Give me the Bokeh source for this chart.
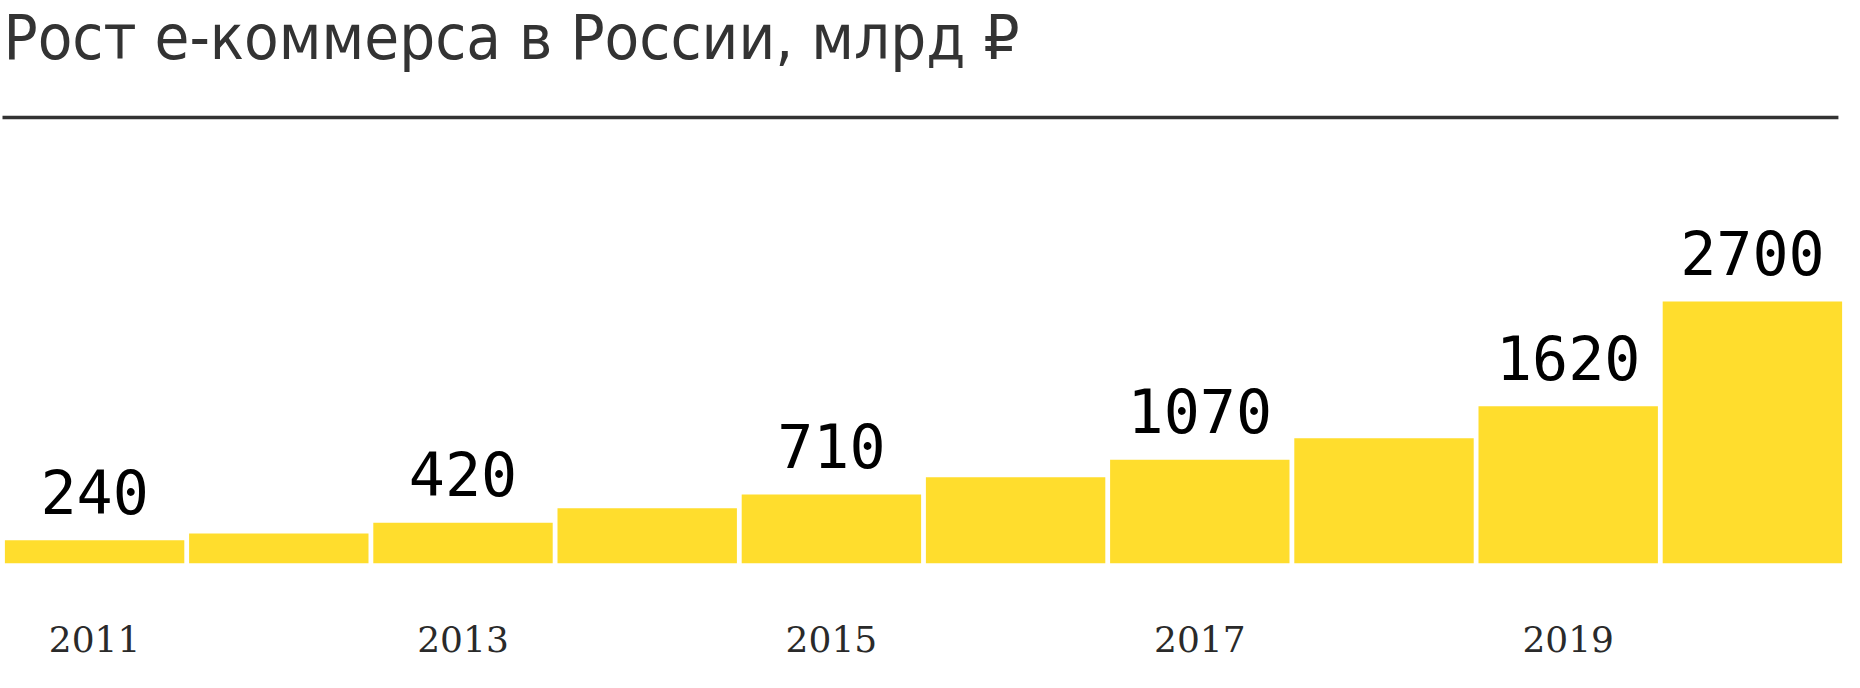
from bokeh.plotting import figure
from bokeh.models import (FactorRange, Range1d, Label, BoxAnnotation, ColumnDataSource,
                          CustomJSTickFormatter)
from bokeh.core.properties import value
from bokeh.embed import file_html
from bokeh.resources import INLINE

# ---- data ----
years = ["2011", "2012", "2013", "2014", "2015", "2016", "2017", "2018", "2019", "2020"]
volumes = [240, 310, 420, 570, 710, 890, 1070, 1290, 1620, 2700]
label_years = ["2011", "2013", "2015", "2017", "2019", "2020"]
label_values = [240, 420, 710, 1070, 1620, 2700]
label_texts = ["240", "420", "710", "1070", "1620", "2700"]
tick_years_shown = ["2011", "2013", "2015", "2017", "2019"]
title_text = "Рост е-коммерса в России, млрд ₽"

YELLOW = "#FFDD2D"
DARK = "#333333"

W, H = 1844, 672
FRAME_BOTTOM = 563          # px from top of figure
PX_PER_UNIT = 262 / 2700
Y_MAX = FRAME_BOTTOM / PX_PER_UNIT
LABEL_GAP = 49 / PX_PER_UNIT

def y_at(px_from_top):
    return (FRAME_BOTTOM - px_from_top) / PX_PER_UNIT

p = figure(
    width=W, height=H,
    x_range=FactorRange(*years, range_padding=0),
    y_range=Range1d(0, Y_MAX),
    output_backend="svg", toolbar_location=None,
    y_axis_location=None,
    min_border_left=2, min_border_right=0, min_border_top=0,
    min_border_bottom=H - FRAME_BOTTOM,
)
p.outline_line_color = None
p.grid.visible = False
p.background_fill_color = "white"
p.border_fill_color = "white"

src = ColumnDataSource(dict(x=years, top=volumes))
p.vbar(x="x", top="top", width=0.974, source=src, fill_color=YELLOW, line_color=None)

lsrc = ColumnDataSource(dict(x=label_years, y=[v + LABEL_GAP for v in label_values], t=label_texts))
p.text(x="x", y="y", text="t", source=lsrc, text_align="center",
       text_baseline="alphabetic",
       text_font=value("DejaVu Sans Mono"), text_font_size="60px", text_color="#000000")

ax = p.xaxis[0]
ax.axis_line_color = None
ax.major_tick_line_color = None
ax.minor_tick_line_color = None
ax.major_tick_out = 0
ax.major_tick_in = 0
ax.major_label_standoff = 62
ax.major_label_text_font = "DejaVu Serif"
ax.major_label_text_font_size = "36px"
ax.major_label_text_color = "#2a2a2a"
ax.formatter = CustomJSTickFormatter(args=dict(shown=tick_years_shown),
                                     code="return shown.includes(String(tick)) ? String(tick) : '';")

title = Label(x=0, y=y_at(37), x_offset=1, text=title_text,
              text_font="DejaVu Sans Condensed", text_font_size="63px",
              text_color=DARK, text_baseline="alphabetic", text_align="left")
p.add_layout(title)

rule_y = y_at(117)
half = 1.8 / PX_PER_UNIT
rule = BoxAnnotation(left=-0.1, right=9.967, bottom=rule_y - half, top=rule_y + half,
                     fill_color=DARK, fill_alpha=1, line_alpha=0)
p.add_layout(rule)

open("out.html", "w").write(file_html(p, INLINE))
